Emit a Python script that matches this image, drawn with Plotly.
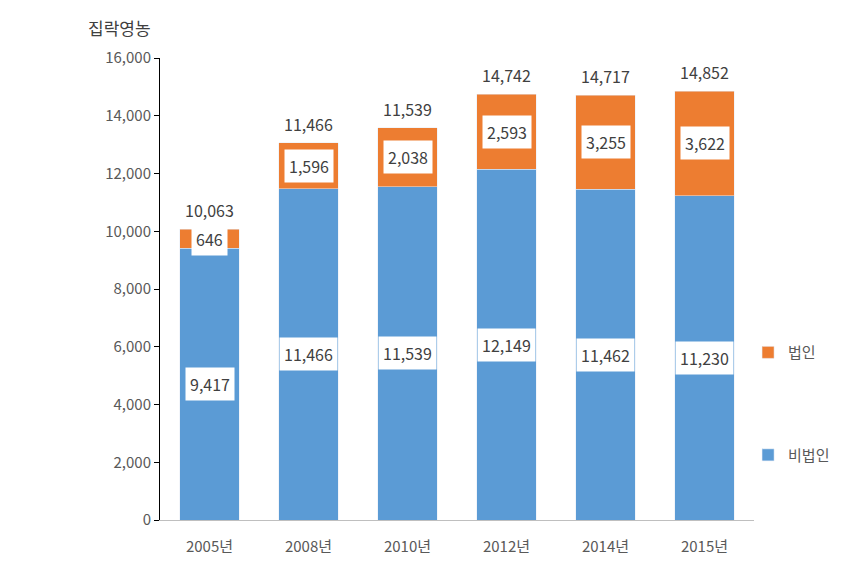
import plotly.graph_objects as go

years = ["2005년", "2008년", "2010년", "2012년", "2014년", "2015년"]
non_corp = [9417, 11466, 11539, 12149, 11462, 11230]   # 비법인
corp = [646, 1596, 2038, 2593, 3255, 3622]              # 법인
total_labels = [10063, 11466, 11539, 14742, 14717, 14852]

FONT = "Noto Sans CJK KR"
BLUE = "#5B9BD5"
ORANGE = "#ED7D31"
TXT = "#404040"

fig = go.Figure()
fig.add_trace(go.Bar(x=years, y=non_corp, name="비법인", marker_color=BLUE,
                     legendgroup="a", legendrank=2, hoverinfo="skip"))
fig.add_trace(go.Bar(x=years, y=corp, name="법인", marker_color=ORANGE,
                     legendgroup="b", legendrank=1, hoverinfo="skip"))

anns = []
for i, yr in enumerate(years):
    nb, cb = non_corp[i], corp[i]
    anns.append(dict(x=yr, y=nb / 2, xref="x", yref="y", text=f"{nb:,}",
                     showarrow=False, bgcolor="white", borderpad=4,
                     font=dict(family=FONT, size=16, color=TXT)))
    anns.append(dict(x=yr, y=nb + cb / 2, xref="x", yref="y", text=f"{cb:,}",
                     showarrow=False, bgcolor="white", borderpad=4,
                     font=dict(family=FONT, size=16, color=TXT)))
    anns.append(dict(x=yr, y=nb + cb, xref="x", yref="y", text=f"{total_labels[i]:,}",
                     showarrow=False, yanchor="bottom", yshift=5,
                     font=dict(family=FONT, size=16, color=TXT)))

anns.append(dict(x=-0.125, y=1.035, xref="paper", yref="paper", text="집락영농",
                 showarrow=False, xanchor="left", yanchor="bottom",
                 font=dict(family=FONT, size=17, color=TXT)))

fig.update_layout(
    width=854, height=570,
    margin=dict(l=152, r=108, t=50, b=58),
    barmode="stack", bargap=0.4,
    plot_bgcolor="white", paper_bgcolor="white",
    font=dict(family=FONT, size=15, color="#595959"),
    annotations=anns,
    legend=dict(x=0.99, y=0.398, xanchor="left", yanchor="top",
                traceorder="grouped", tracegroupgap=80,
                font=dict(family=FONT, size=15, color="#595959"),
                itemwidth=30),
    showlegend=True,
)
fig.update_yaxes(range=[0, 16000], dtick=2000, tickformat=",", showgrid=False,
                 showline=True, linecolor="black", linewidth=1,
                 ticks="outside", ticklen=5, tickcolor="black",
                 zeroline=False, tickfont=dict(size=15, color="#595959"))
fig.update_xaxes(showline=True, linecolor="#BFBFBF", linewidth=1, ticks="",
                 showgrid=False, ticklabelstandoff=13,
                 tickfont=dict(size=15, color="#595959"))

fig.write_html("out.html")
